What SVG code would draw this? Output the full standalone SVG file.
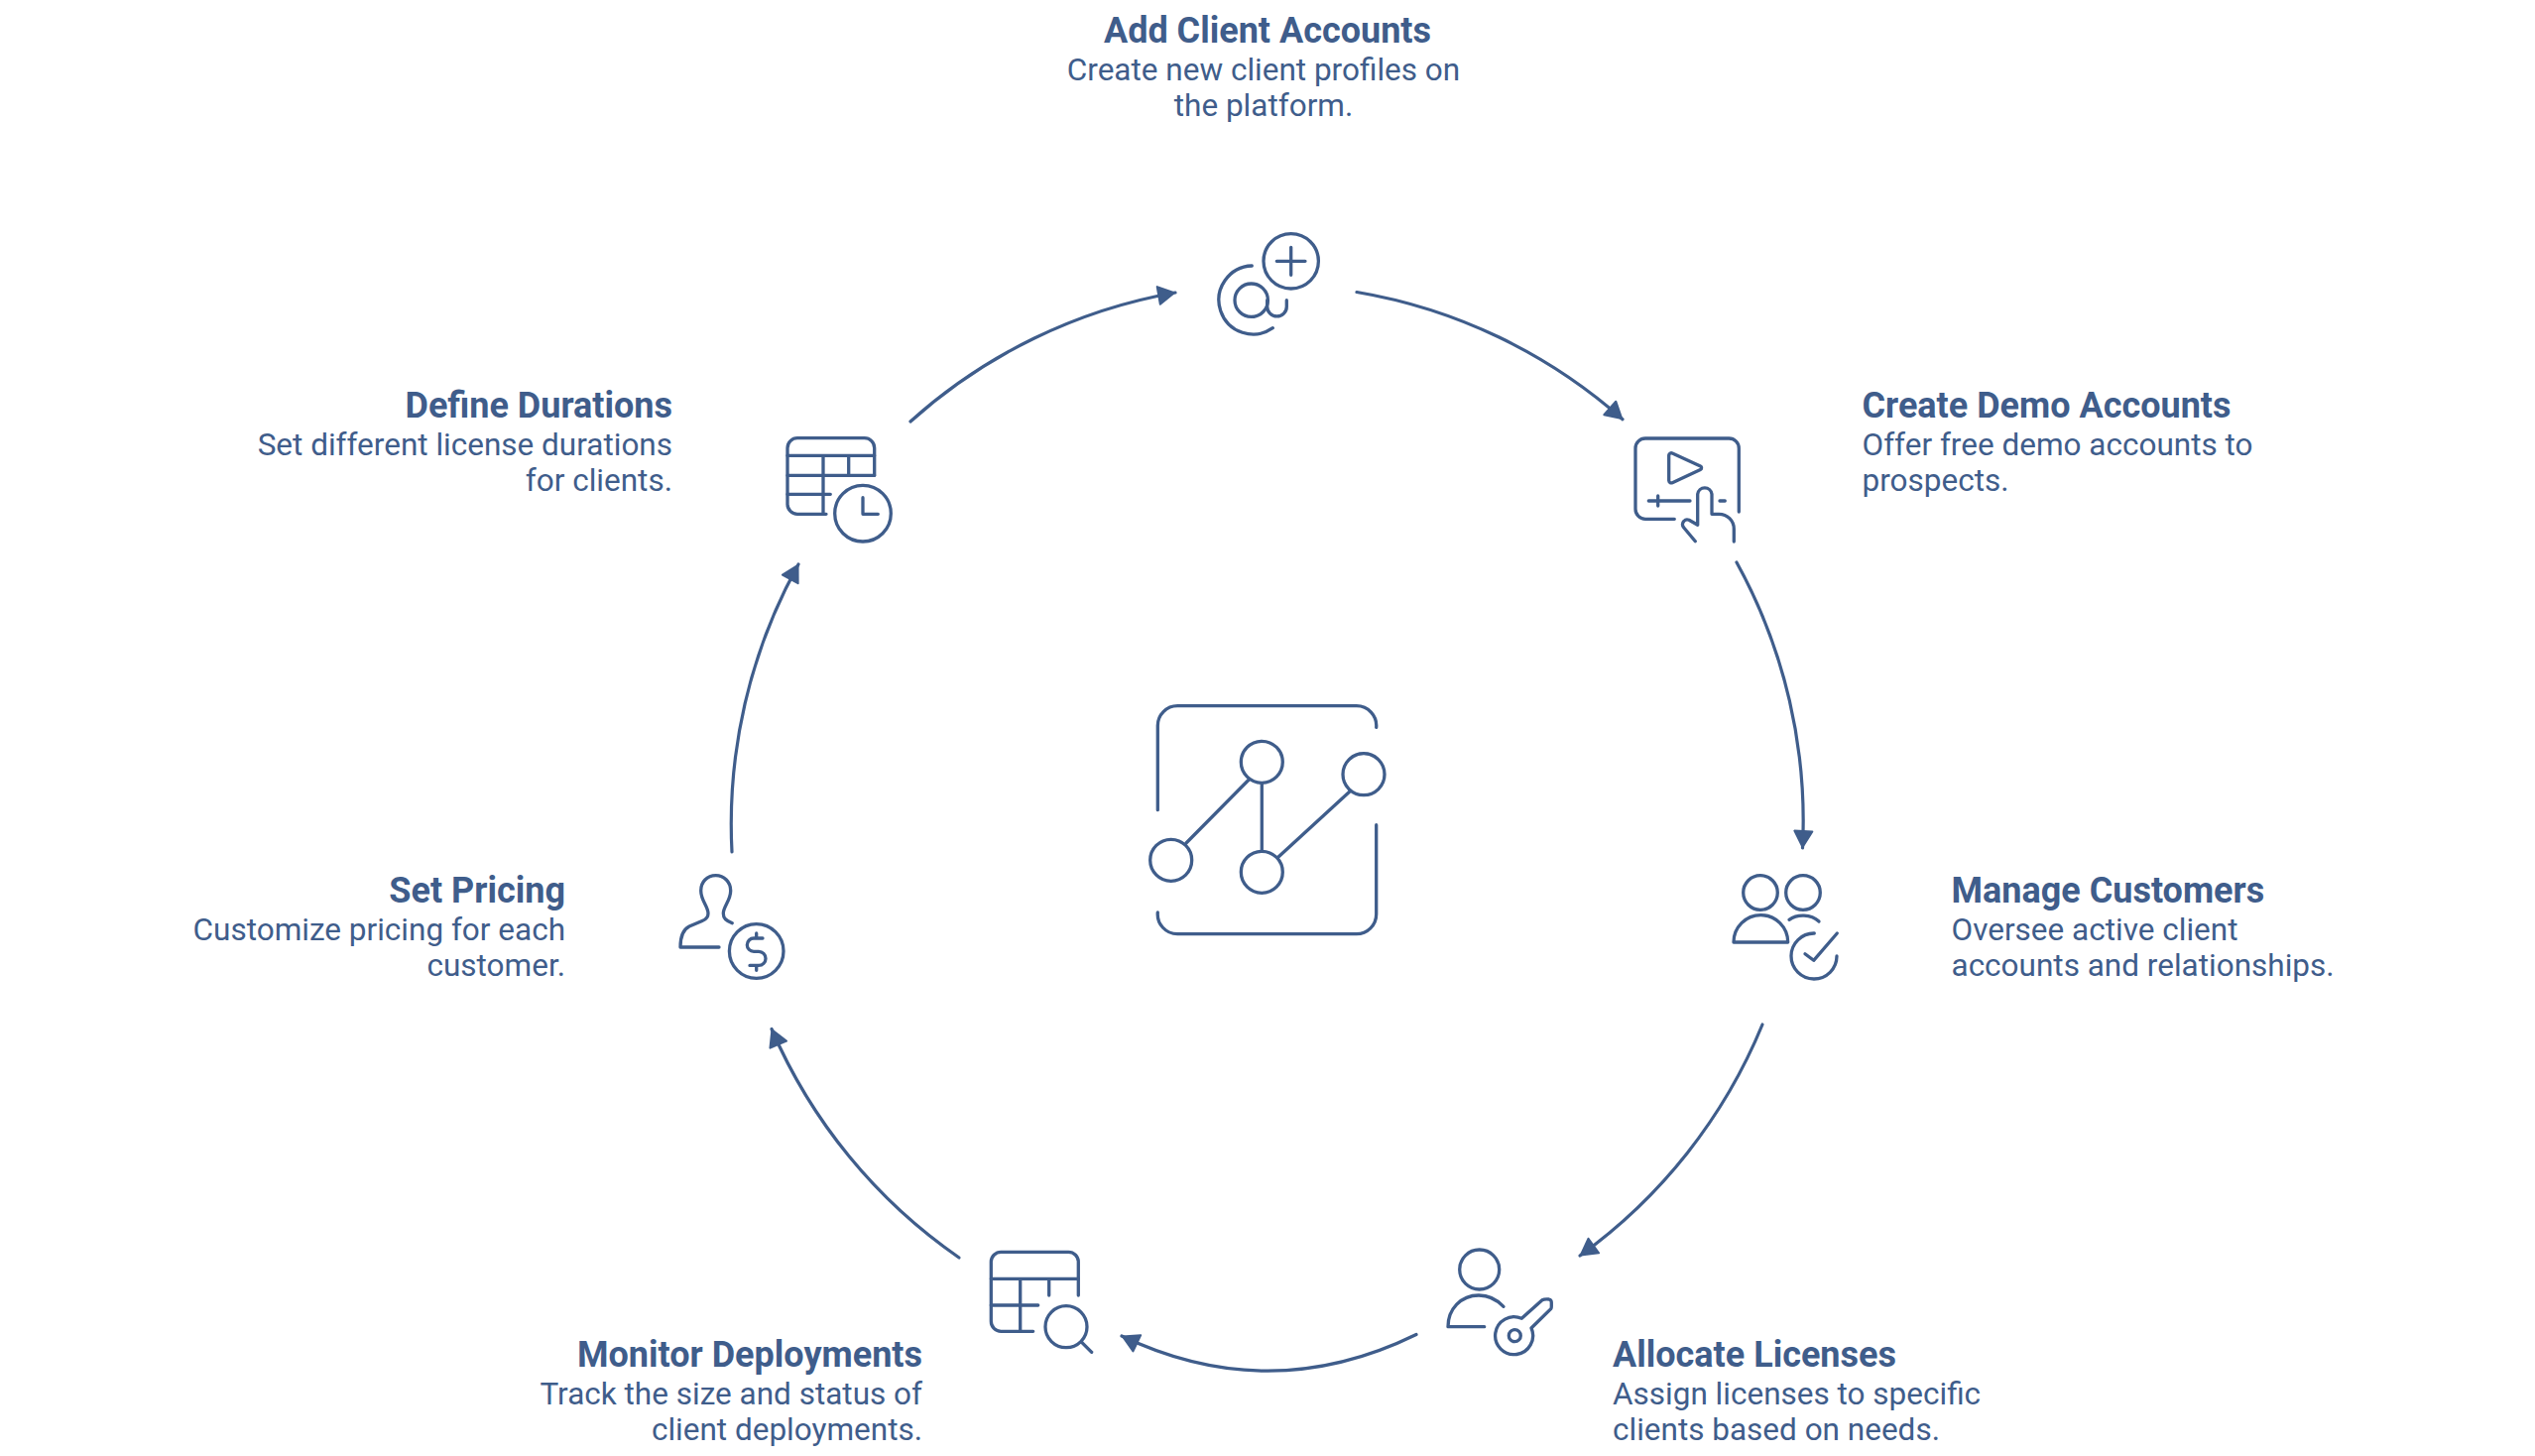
<svg xmlns="http://www.w3.org/2000/svg" width="2556" height="1468" viewBox="0 0 2556 1468">
<style>
.i{fill:none;stroke:#3f5d8b;stroke-width:3.3;stroke-linecap:round;stroke-linejoin:round}
.c{fill:none;stroke:#3f5d8b;stroke-width:3.2;stroke-linecap:round}
.t{font-family:Roboto,"Liberation Sans",sans-serif;font-size:36px;font-weight:700;fill:#3f5d8b}
.d{font-family:Roboto,"Liberation Sans",sans-serif;font-size:31.5px;fill:#3f5d8b}
.e{text-anchor:end}.m{text-anchor:middle}
</style>
<defs><marker id="a" markerUnits="userSpaceOnUse" markerWidth="26" markerHeight="26" refX="19" refY="11" orient="auto"><path d="M2,2L18,11L2,20Z" fill="#3f5d8b" stroke="#3f5d8b" stroke-width="2" stroke-linejoin="round"/></marker></defs>
<rect width="2556" height="1468" fill="#fff"/>
<g id="connectors" class="c">
<path d="M1368,294.5A540,540 0 0 1 1636,422.7" marker-end="url(#a)"/>
<path d="M1751,567A540,540 0 0 1 1817.5,855" marker-end="url(#a)"/>
<path d="M1777,1033A540,540 0 0 1 1593,1266" marker-end="url(#a)"/>
<path d="M1428,1345.5Q1280,1418 1131,1347" marker-end="url(#a)"/>
<path d="M967,1268A540,540 0 0 1 778,1037.5" marker-end="url(#a)"/>
<path d="M738,859A540,540 0 0 1 805,569" marker-end="url(#a)"/>
<path d="M918,425A540,540 0 0 1 1185,295" marker-end="url(#a)"/>
</g>
<g id="center" class="i">
<path d="M1167.3,816.7V732a20,20 0 0 1 20,-20.3H1367.7a20,20 0 0 1 20,21.6M1387.7,831.7V921.7a20,20 0 0 1 -20,20H1187.3a20,20 0 0 1 -20,-21.7"/>
<circle cx="1272.3" cy="768.3" r="21"/><circle cx="1375" cy="780.7" r="21"/><circle cx="1180.7" cy="867.3" r="21"/><circle cx="1272.3" cy="879.3" r="21"/>
<path d="M1259.3,786L1196,850M1272.3,790V858M1360.7,798.3L1289,864"/>
</g>
<g id="node1"><g class="i">
<circle cx="1301.7" cy="263.3" r="27.7"/><path d="M1287.3,263.3H1316M1301.7,249.3V277.3"/>
<path d="M1262.3,268A34.5,34.5 0 1 0 1283.3,330.7"/><circle cx="1261.7" cy="302.7" r="16.7"/>
<path d="M1277.7,302.7v6.5a9.8,9.8 0 0 0 19.6,0v-6.5"/></g>
<text class="t m" x="1278" y="43">Add Client Accounts</text>
<text class="d m" x="1274" y="81">Create new client profiles on</text>
<text class="d m" x="1274" y="117">the platform.</text></g>
<g id="node2"><g class="i">
<path d="M1753.3,516V452a10,10 0 0 0 -10,-10H1659a10,10 0 0 0 -10,10V513.3a10,10 0 0 0 10,10H1688.3"/>
<path d="M1682.7,459V484.5a2.5,2.5 0 0 0 3.5,2.2L1714.5,473.5a2,2 0 0 0 0,-3.6L1686.2,457a2.5,2.5 0 0 0 -3.5,2Z"/>
<path d="M1662.3,505H1704M1671.7,500V510M1734,505H1739.3"/>
<path d="M1709.3,545.7L1697.8,532a4.5,4.5 0 0 1 0,-6.5 4.5,4.5 0 0 1 5.2,-1.2L1711.7,529.3V498.3a7.2,7.2 0 0 1 14.3,0V518.3H1733.3a15,15 0 0 1 15,15V546"/></g>
<text class="t" x="1877.5" y="421">Create Demo Accounts</text>
<text class="d" x="1877.5" y="459">Offer free demo accounts to</text>
<text class="d" x="1877.5" y="495">prospects.</text></g>
<g id="node3"><g class="i">
<circle cx="1775" cy="900" r="17.3"/><circle cx="1818" cy="900" r="17.3"/>
<path d="M1748,950A27.3,27.3 0 0 1 1802.7,950Z"/>
<path d="M1804,927.3C1812,921.5 1826,921.5 1834,929"/>
<path d="M1829.3,941A23,23 0 1 0 1852,964M1820,961.7L1828.7,968.3L1852.3,941"/></g>
<text class="t" x="1967.5" y="910">Manage Customers</text>
<text class="d" x="1967.5" y="948">Oversee active client</text>
<text class="d" x="1967.5" y="984">accounts and relationships.</text></g>
<g id="node4"><g class="i">
<circle cx="1491.7" cy="1280" r="20"/>
<path d="M1516,1317.3C1509,1310 1500,1306 1491,1306C1473,1306 1460,1320 1460,1337.7H1496.7"/>
<circle cx="1527.3" cy="1346.7" r="6"/>
<path d="M1534.3,1329.3L1555,1310.7Q1557,1309.7 1561.7,1310Q1564.3,1310.5 1564.3,1313.3V1317Q1564.3,1319 1564,1319.3L1544,1339A19,19 0 1 1 1534.3,1329.3Z"/></g>
<text class="t" x="1626" y="1378">Allocate Licenses</text>
<text class="d" x="1626" y="1416">Assign licenses to specific</text>
<text class="d" x="1626" y="1452">clients based on needs.</text></g>
<g id="node5"><g class="i">
<path d="M1087.3,1306V1272.3a10,10 0 0 0 -10,-10H1009.3a10,10 0 0 0 -10,10V1332.3a10,10 0 0 0 10,10H1041.7"/>
<path d="M999.3,1289.3H1087.3M1057.7,1289.3V1306M1028.7,1289.3V1342.3M999.3,1316H1046.7"/>
<circle cx="1075" cy="1337.7" r="21"/><path d="M1090.7,1353.3L1100.7,1363.3"/></g>
<text class="t e" x="930" y="1378">Monitor Deployments</text>
<text class="d e" x="930" y="1416">Track the size and status of</text>
<text class="d e" x="930" y="1452">client deployments.</text></g>
<g id="node6"><g class="i">
<path d="M738.3,930.7C732,928 729.3,926 729.3,921C729.3,914 736.7,908 736.7,898C736.7,889 730,882.7 721.7,882.7C713,882.7 706.7,889 706.7,898C706.7,908 714,914 714,921C714,925 712,927 708,928.5L695,934C689,937 686,945 686,955H725"/>
<circle cx="762.7" cy="959" r="27.3"/>
<path d="M769,946H760a6.7,6.7 0 0 0 0,13.4H765a7,7 0 0 1 0,14H756M762.7,941V946M762.7,973.4V978.3"/></g>
<text class="t e" x="570" y="910">Set Pricing</text>
<text class="d e" x="570" y="948">Customize pricing for each</text>
<text class="d e" x="570" y="984">customer.</text></g>
<g id="node7"><g class="i">
<path d="M833,518.3H804a10,10 0 0 1 -10,-10V451.7a10,10 0 0 1 10,-10H871.7a10,10 0 0 1 10,10V479.3"/>
<path d="M794,459.3H881.7M794,479.3H881.7M794,498.3H837.3M830,459.3V518.3M855.7,459.3V479.3"/>
<circle cx="870" cy="517.7" r="28.3"/><path d="M870,501.7V518.3H885.3"/></g>
<text class="t e" x="678" y="421">Define Durations</text>
<text class="d e" x="678" y="459">Set different license durations</text>
<text class="d e" x="678" y="495">for clients.</text></g>
</svg>
